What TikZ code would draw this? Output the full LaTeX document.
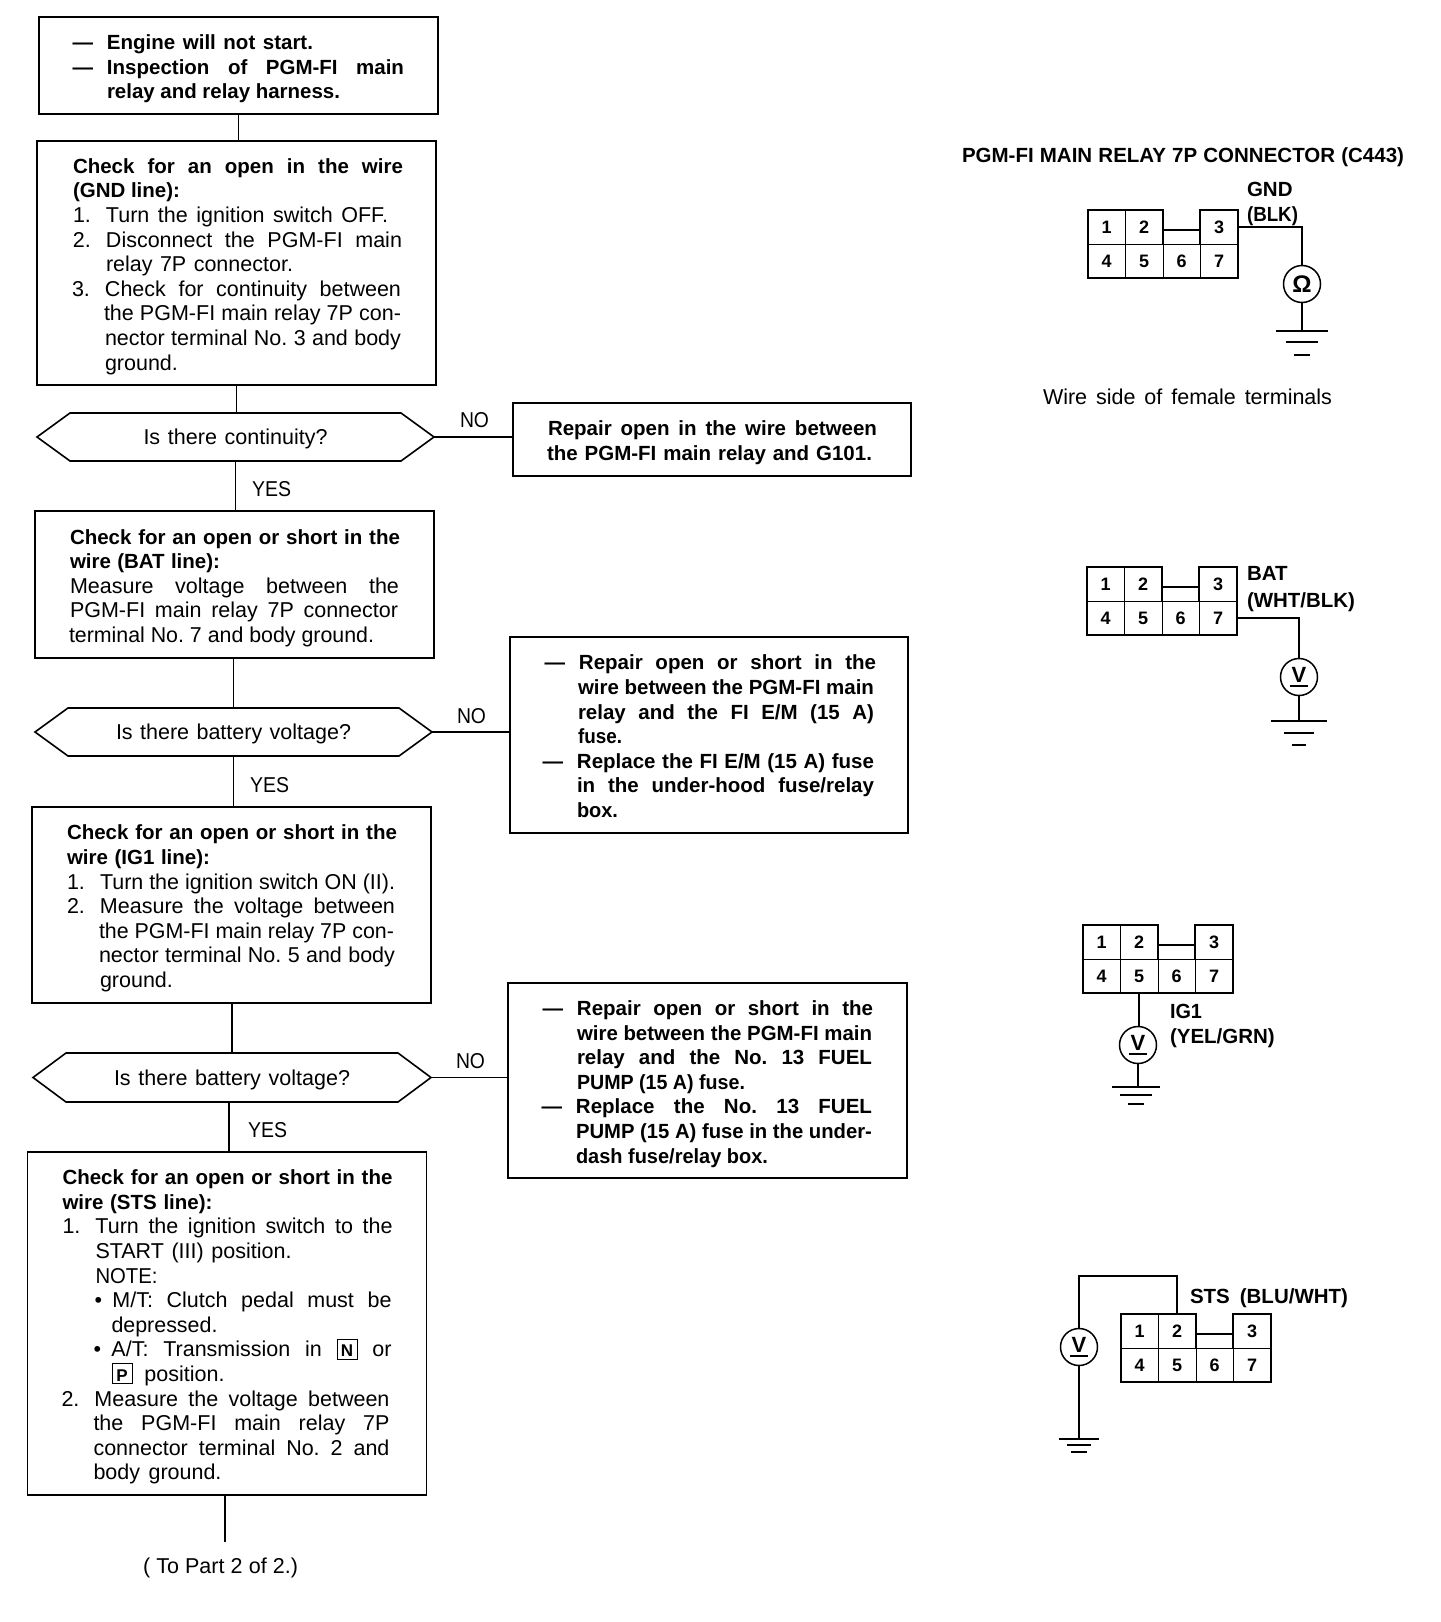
\documentclass[tikz,border=0pt]{standalone}
\usepackage{fontspec}
\usepackage{graphicx}
\setmainfont{Liberation Sans}
\frenchspacing
\newlength\boxw
\newsavebox\fitbox
\newcommand\rgf{\fontsize{21.5}{24.6}\selectfont\frenchspacing}
\newcommand\bff{\fontsize{20.5}{24.6}\selectfont\bfseries\frenchspacing}
\newcommand\fit[2]{\sbox\fitbox{#2}\ifdim\wd\fitbox>#1pt\relax\pgfmathsetmacro\fitr{#1/\the\wd\fitbox}\scalebox{\fitr}[1]{\usebox\fitbox}\else\makebox[#1pt][s]{#2}\fi}
\newcommand\lstrut{\vrule height21pt depth3.6pt width0pt}
\newcommand\LN[1]{\hbox to\boxw{\lstrut\smash{\hbox to\boxw{#1\hss}}\hss}}
% regular line, bold line, bold line with dash, numbered line, bulleted line
\newcommand\TL[3]{\LN{\hskip#1pt\fit{#2}{\rgf #3}}}
\newcommand\TB[3]{\LN{\hskip#1pt\fit{#2}{\bff #3}}}
\newcommand\TD[3]{\LN{\hskip#1pt\llap{\bff —\hskip14pt}\fit{#2}{\bff #3}}}
\newcommand\TN[4]{\LN{\hskip#1pt\llap{\makebox[33pt][l]{\rgf #3}}\fit{#2}{\rgf #4}}}
\newcommand\TU[3]{\LN{\hskip#1pt\llap{\makebox[18pt][l]{\rgf •}}\fit{#2}{\rgf #3}}}
\newcommand\block[2]{\vbox{\boxw=#1pt\relax\offinterlineskip #2}}
\newcommand\kbd[1]{{\fboxsep=0pt\fboxrule=1pt\fbox{\vrule height17pt depth2pt width0pt\makebox[19pt]{\fontsize{17}{17}\selectfont\bfseries #1}}}}
\newcommand\hexa[1]{\draw[boxline] (#1.west) -- ([xshift=33pt]#1.north west) -- ([xshift=-33pt]#1.north east) -- (#1.east) -- ([xshift=-33pt]#1.south east) -- ([xshift=33pt]#1.south west) -- cycle;}
\newcommand\conn[3]{%
 \begin{scope}[shift={(#2,#3)}]
 \node[cell,minimum width=37pt] (#1n1) at (18.5,17) {1};
 \node[cell,minimum width=38pt] (#1n2) at (56,17) {2};
 \node[cell,minimum width=38pt] (#1n3) at (131,17) {3};
 \node[cell,minimum width=37pt] (#1n4) at (18.5,51) {4};
 \node[cell,minimum width=38pt] (#1n5) at (56,51) {5};
 \node[cell,minimum width=37pt] (#1n6) at (93.5,51) {6};
 \node[cell,minimum width=38pt] (#1n7) at (131,51) {7};
 \draw[outl] (75,34) -- (75,0) -- (0,0) -- (0,68) -- (150,68) -- (150,0) -- (112,0) -- (112,34);
 \draw[outl] (75,20) -- (112,20);
 \end{scope}}
\newcommand\gnd[6]{%
 \draw[wire] ([xshift=-#2pt]#1) -- ([xshift=#2pt]#1);
 \draw[wire] ([xshift=-#4pt,yshift=-#3pt]#1) -- ([xshift=#4pt,yshift=-#3pt]#1);
 \draw[wire] ([xshift=-#6pt,yshift=-#5pt]#1) -- ([xshift=#6pt,yshift=-#5pt]#1);}
\newcommand\vsym{\vbox{\offinterlineskip\hbox to18pt{\hss\fontsize{22}{22}\selectfont\bfseries V\hss}\kern2.5pt\hrule height1.5pt}}
\tikzset{
 boxline/.style={line width=1.6pt,line join=miter},
 wire/.style={line width=1.5pt},
 outl/.style={line width=2pt,line join=miter},
 fcbox/.style={draw,boxline,inner sep=0pt,outer sep=0pt,align=left},
 dec/.style={inner sep=0pt,outer sep=0pt,text height=15.5pt,text depth=0pt,font=\rgf},
 lab/.style={inner sep=0pt,outer sep=0pt,anchor=base west},
 cell/.style={draw,line width=.8pt,inner sep=0pt,outer sep=0pt,minimum height=34pt,text height=13pt,text depth=0pt,font=\fontsize{18}{18}\selectfont\bfseries},
 meter/.style={draw,circle,line width=1.5pt,inner sep=0pt,outer sep=0pt,minimum size=37pt},
}
\begin{document}
\begin{tikzpicture}[x=1pt,y=-1pt]
\useasboundingbox[fill=white] (0,0) rectangle (1440,1622);

\node[fcbox,minimum width=399pt,minimum height=97pt] (a) at (238.5,65.5) {\block{399}{%
 \TD{68}{206}{Engine will not start.}
 \TD{68}{297}{Inspection of PGM-FI main}
 \TB{68}{233}{relay and relay harness.}}};

\node[fcbox,minimum width=399pt,minimum height=244pt] (b) at (236.5,263) {\block{399}{%
 \TB{36}{330}{Check for an open in the wire}
 \TB{36}{107}{(GND line):}
 \TN{69}{282}{1.}{Turn the ignition switch OFF.}
 \TN{69}{296}{2.}{Disconnect the PGM-FI main}
 \TL{69}{187}{relay 7P connector.}
 \TN{68}{296}{3.}{Check for continuity between}
 \TL{67}{297}{the PGM-FI main relay 7P con-}
 \TL{68}{296}{nector terminal No. 3 and body}
 \TL{68}{74}{ground.}}};

\node[dec,minimum width=397pt,minimum height=48pt] (d1) at (235.5,437) {\fit{184}{Is there continuity?}};
\hexa{d1}

\node[fcbox,minimum width=399pt,minimum height=147pt] (c) at (234.5,584.5) {\block{399}{%
 \TB{35}{330}{Check for an open or short in the}
 \TB{35}{150}{wire (BAT line):}
 \TL{35}{329}{Measure voltage between the}
 \TL{35}{328}{PGM-FI main relay 7P connector}
 \TL{34}{305}{terminal No. 7 and body ground.}}};

\node[dec,minimum width=397pt,minimum height=48pt] (d2) at (233.5,732) {\fit{235}{Is there battery voltage?}};
\hexa{d2}

\node[fcbox,minimum width=399pt,minimum height=196pt] (e) at (231.5,905) {\block{399}{%
 \TB{35}{330}{Check for an open or short in the}
 \TB{35}{143}{wire (IG1 line):}
 \TN{68}{295}{1.}{Turn the ignition switch ON (II).}
 \TN{68}{295}{2.}{Measure the voltage between}
 \TL{67}{295}{the PGM-FI main relay 7P con-}
 \TL{67}{296}{nector terminal No. 5 and body}
 \TL{68}{73}{ground.}}};

\node[dec,minimum width=398pt,minimum height=49pt] (d3) at (232,1077.5) {\fit{236}{Is there battery voltage?}};
\hexa{d3}

\node[fcbox,minimum width=399pt,minimum height=343pt] (f) at (227,1323.5) {\block{399}{%
 \TB{35}{330}{Check for an open or short in the}
 \TB{35}{150}{wire (STS line):}
 \TN{68}{297}{1.}{Turn the ignition switch to the}
 \TL{68}{196}{START (III) position.}
 \TL{68}{62}{NOTE:}
 \TU{85}{279}{M/T: Clutch pedal must be}
 \TL{84}{106}{depressed.}
 \TU{84}{280}{A/T: Transmission in \kbd{N} or}
 \TL{84}{113}{\kbd{P} position.}
 \TN{67}{295}{2.}{Measure the voltage between}
 \TL{66}{296}{the PGM-FI main relay 7P}
 \TL{66}{296}{connector terminal No. 2 and}
 \TL{66}{128}{body ground.}}};

\node[fcbox,minimum width=398pt,minimum height=73pt] (r1) at (712,439.5) {\block{398}{%
 \TB{35}{329}{Repair open in the wire between}
 \TB{34}{325}{the PGM-FI main relay and G101.}}};

\node[fcbox,minimum width=398pt,minimum height=196pt] (r2) at (709,735) {\block{398}{%
 \TD{69}{297}{Repair open or short in the}
 \TB{68}{296}{wire between the PGM-FI main}
 \TB{68}{296}{relay and the FI E/M (15 A)}
 \TB{68}{44}{fuse.}
 \TD{67}{297}{Replace the FI E/M (15 A) fuse}
 \TB{67}{297}{in the under-hood fuse/relay}
 \TB{67}{41}{box.}}};

\node[fcbox,minimum width=399pt,minimum height=195pt] (r3) at (707.5,1080.5) {\block{399}{%
 \TD{69}{296}{Repair open or short in the}
 \TB{69}{295}{wire between the PGM-FI main}
 \TB{69}{295}{relay and the No. 13 FUEL}
 \TB{69}{168}{PUMP (15 A) fuse.}
 \TD{68}{296}{Replace the No. 13 FUEL}
 \TB{68}{296}{PUMP (15 A) fuse in the under-}
 \TB{68}{192}{dash fuse/relay box.}}};

% flow connectors
\draw[wire] (a.south) -- (a.south |- b.north);
\draw[wire] (b.south) -- (b.south |- d1.north);
\draw[wire] (d1.south) -- (d1.south |- c.north);
\draw[wire] (d2.north |- c.south) -- (d2.north);
\draw[wire] (d2.south) -- (d2.south |- e.north);
\draw[wire] (d3.north |- e.south) -- (d3.north);
\draw[wire] ([xshift=-3pt]d3.south) -- ([xshift=-3pt]d3.south |- f.north);
\coordinate (fend) at (225,1542);
\draw[wire] (fend |- f.south) -- (fend);
\draw[wire] (d1.east) -- (d1.east -| r1.west);
\draw[wire] (d2.east) -- (d2.east -| r2.west);
\draw[wire] (d3.east) -- (d3.east -| r3.west);

% flow labels
\node[lab] (no1) at (460,427) {\fit{29}{\rgf NO}};
\node[lab] (no2) at (457,723) {\fit{29}{\rgf NO}};
\node[lab] (no3) at (456,1068) {\fit{29}{\rgf NO}};
\node[lab] (yes1) at (252,496) {\fit{39}{\rgf YES}};
\node[lab] (yes2) at (250,792) {\fit{39}{\rgf YES}};
\node[lab] (yes3) at (248,1137) {\fit{39}{\rgf YES}};
\node[lab] (topart) at (143,1573) {\fit{155}{\rgf ( To Part 2 of 2.)}};

% right column
\node[lab] (title) at (962,162) {\fit{442}{\bff PGM-FI MAIN RELAY 7P CONNECTOR (C443)}};
\node[lab] (wside) at (1043,404) {\fit{289}{\rgf Wire side of female terminals}};

% connector 1
\conn{ca}{1088}{210}
\node[lab] (gnd) at (1247,196) {\fit{46}{\bff GND}};
\node[lab] (blk) at (1247,221) {\fit{51}{\bff (BLK)}};
\node[meter] (ma) at (1302,284) {\fontsize{24}{24}\selectfont\bfseries Ω};
\coordinate (ga) at (1302,331);
\draw[wire] (can3.east) -| (ma.north);
\draw[wire] (ma.south) -- (ga);
\gnd{ga}{26}{11}{16}{24}{8}

% connector 2
\conn{cb}{1087}{567}
\node[lab] (bat) at (1247,580) {\fit{42}{\bff BAT}};
\node[lab] (whtblk) at (1247,607) {\fit{108}{\bff (WHT/BLK)}};
\node[meter] (mb) at (1299,677) {\vsym};
\coordinate (gb) at (1299,721);
\draw[wire] (cbn7.east) -| (mb.north);
\draw[wire] (mb.south) -- (gb);
\gnd{gb}{28}{12}{15}{24}{7}

% connector 3
\conn{cc}{1083}{925}
\node[lab] (ig) at (1170,1018) {\fit{32}{\bff IG1}};
\node[lab] (yelgrn) at (1170,1043) {\fit{106}{\bff (YEL/GRN)}};
\node[meter] (mc) at (1138,1045) {\vsym};
\coordinate (gc) at (1136,1087);
\draw[wire] (ccn5.south) -- (ccn5.south |- mc.north);
\draw[wire] (mc.south) -- (mc.south |- gc);
\gnd{gc}{24}{8}{16}{17}{8}

% connector 4
\conn{cd}{1121}{1314}
\node[lab] (sts) at (1190,1303) {\fit{158}{\bff STS (BLU/WHT)}};
\node[meter] (md) at (1079,1347) {\vsym};
\coordinate (gd) at (1079,1439);
\coordinate (wd) at (1176,1276);
\draw[wire] (cdn2.north) -- (cdn2.north |- wd) -| (md.north);
\draw[wire] (md.south) -- (gd);
\gnd{gd}{20}{6}{12}{13}{8}
\end{tikzpicture}
\end{document}
